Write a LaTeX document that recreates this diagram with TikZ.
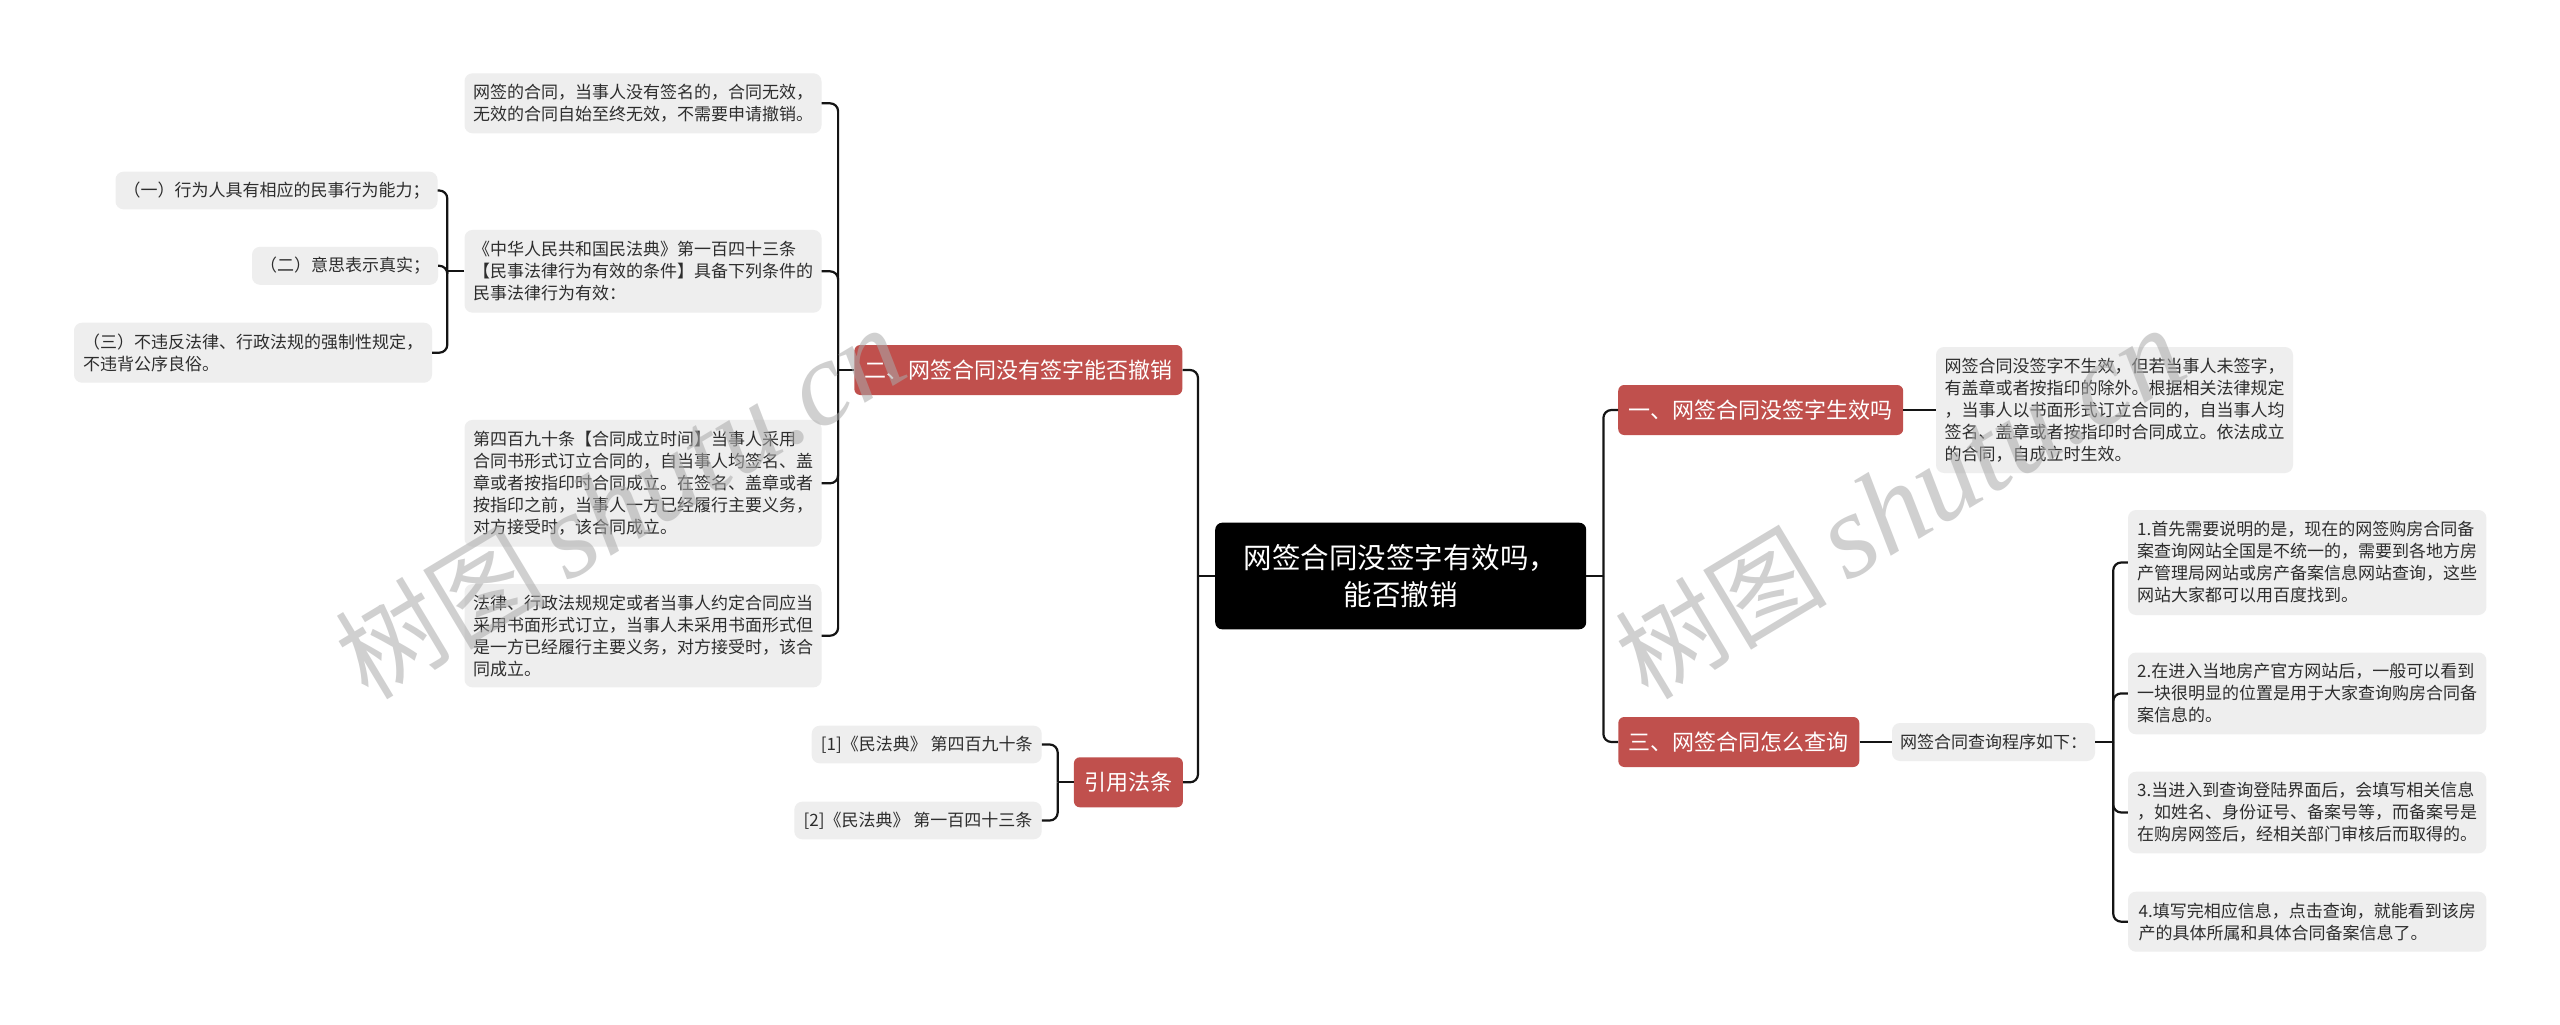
\documentclass[tikz,border=0pt]{standalone}
\usepackage{fontspec}
\setmainfont{Noto Sans CJK SC}
\newfontfamily\cjk{Noto Sans CJK SC}
\newfontfamily\wmserif{Liberation Serif}
\definecolor{nodered}{RGB}{192,80,77}
\definecolor{boxgray}{RGB}{238,238,238}
\definecolor{txtgray}{RGB}{45,45,45}
\definecolor{linecol}{RGB}{20,20,20}
\definecolor{wmcol}{RGB}{170,170,170}
\begin{document}
\begin{tikzpicture}[x=1pt,y=-1pt,
  gbox/.style={fill=boxgray, rounded corners=8pt, inner xsep=8pt, inner ysep=0pt,
    align=left, text=txtgray, font=\fontsize{17}{22}\selectfont},
  rbox/.style={fill=nodered, rounded corners=6pt, inner sep=0pt, text=white,
    font=\fontsize{22}{26}\selectfont, minimum height=50pt},
  cbox/.style={fill=black, rounded corners=7pt, inner sep=0pt, text=white, align=center,
    font=\fontsize{28.5}{36.7}\selectfont},
  link/.style={draw=linecol, line width=2.2pt},
  blink/.style={draw=linecol, line width=2.2pt, rounded corners=8pt},
  wmark/.style={text=wmcol, opacity=0.55, inner sep=0pt, anchor=base west, rotate=31}
]
\fill[white] (0,0) rectangle (2560,1025);
\useasboundingbox (0,0) rectangle (2560,1025);

% central
\node[cbox, minimum width=371pt, minimum height=106.6pt] (root) at (1400.7,576) {网签合同没签字有效吗，\\能否撤销};

% main branches
\node[rbox, minimum width=328pt] (b2) at (1018.3,370) {二、网签合同没有签字能否撤销};
\node[rbox, minimum width=109pt] (bref) at (1128.4,782.3) {引用法条};
\node[rbox, minimum width=285pt] (b1) at (1760.7,410) {一、网签合同没签字生效吗};
\node[rbox, minimum width=241pt] (b3) at (1738.8,742) {三、网签合同怎么查询};

% section two children
\node[gbox, minimum width=357pt, minimum height=60pt] (A) at (643,103.3) {网签的合同，当事人没有签名的，合同无效，\\无效的合同自始至终无效，不需要申请撤销。};
\node[gbox, minimum width=357pt, minimum height=82.7pt] (B) at (643,271.3) {《中华人民共和国民法典》第一百四十三条\\【民事法律行为有效的条件】具备下列条件的\\民事法律行为有效：};
\node[gbox, minimum width=357pt, minimum height=126.7pt] (C) at (643,483.3) {第四百九十条【合同成立时间】当事人采用\\合同书形式订立合同的，自当事人均签名、盖\\章或者按指印时合同成立。在签名、盖章或者\\按指印之前，当事人一方已经履行主要义务，\\对方接受时，该合同成立。};
\node[gbox, minimum width=357pt, minimum height=103.3pt] (D) at (643,635.7) {法律、行政法规规定或者当事人约定合同应当\\采用书面形式订立，当事人未采用书面形式但\\是一方已经履行主要义务，对方接受时，该合\\同成立。};

% conditions
\node[gbox, minimum width=311pt, minimum height=37.6pt] (c1) at (276.5,190.5) {（一）行为人具有相应的民事行为能力；};
\node[gbox, minimum width=174pt, minimum height=38pt] (c2) at (345,265.8) {（二）意思表示真实；};
\node[gbox, minimum width=358pt, minimum height=60pt] (c3) at (253,352.7) {（三）不违反法律、行政法规的强制性规定，\\不违背公序良俗。};

% citations
\node[gbox, minimum width=230pt, minimum height=37.6pt] (r1) at (926.7,744.5) {[1]《民法典》 第四百九十条};
\node[gbox, minimum width=247.4pt, minimum height=37.6pt] (r2) at (918,820.5) {[2]《民法典》 第一百四十三条};

% section one child
\node[gbox, minimum width=357pt, minimum height=126pt] (E) at (2114.5,410) {网签合同没签字不生效，但若当事人未签字，\\有盖章或者按指印的除外。根据相关法律规定\\，当事人以书面形式订立合同的，自当事人均\\签名、盖章或者按指印时合同成立。依法成立\\的合同，自成立时生效。};

% section three children
\node[gbox, minimum width=203pt, minimum height=38pt] (F) at (1993.5,742) {网签合同查询程序如下：};
\node[gbox, minimum width=358.4pt, minimum height=105pt] (G1) at (2307.2,562.5) {1.首先需要说明的是，现在的网签购房合同备\\案查询网站全国是不统一的，需要到各地方房\\产管理局网站或房产备案信息网站查询，这些\\网站大家都可以用百度找到。};
\node[gbox, minimum width=358.4pt, minimum height=81.8pt] (G2) at (2307.2,693.4) {2.在进入当地房产官方网站后，一般可以看到\\一块很明显的位置是用于大家查询购房合同备\\案信息的。};
\node[gbox, minimum width=358.4pt, minimum height=81.6pt] (G3) at (2307.2,812.5) {3.当进入到查询登陆界面后，会填写相关信息\\，如姓名、身份证号、备案号等，而备案号是\\在购房网签后，经相关部门审核后而取得的。};
\node[gbox, minimum width=358.4pt, minimum height=60pt] (G4) at (2307.2,921.7) {4.填写完相应信息，点击查询，就能看到该房\\产的具体所属和具体合同备案信息了。};

% connectors: root left
\draw[link] (root.west) -- ++(-17,0) coordinate (jL);
\draw[blink] (jL) |- (b2.east);
\draw[blink] (jL) |- (bref.east);
% root right
\draw[link] (root.east) -- ++(17,0) coordinate (jR);
\draw[blink] (jR) |- (b1.west);
\draw[blink] (jR) |- (b3.west);
% section two
\draw[link] (b2.west) -- ++(-16,0) coordinate (j2);
\draw[blink] (j2) |- (A.east);
\draw[blink] (j2) |- (B.east);
\draw[blink] (j2) |- (C.east);
\draw[blink] (j2) |- (D.east);
% conditions
\draw[link] (B.west) -- ++(-17,0) coordinate (jB);
\draw[blink] (jB) |- (c1.east);
\draw[blink] (jB) |- (c2.east);
\draw[blink] (jB) |- (c3.east);
% citations
\draw[link] (bref.west) -- ++(-16,0) coordinate (jC);
\draw[blink] (jC) |- (r1.east);
\draw[blink] (jC) |- (r2.east);
% section one
\draw[link] (b1.east) -- (E.west);
% section three
\draw[link] (b3.east) -- (F.west);
\draw[link] (F.east) -- ++(18,0) coordinate (jF);
\draw[blink] (jF) |- (G1.west);
\draw[blink] (jF) |- (G2.west);
\draw[blink] (jF) |- (G3.west);
\draw[blink] (jF) |- (G4.west);

% watermarks
\node[wmark] (wm1) at (368,702) {\fontsize{106}{110}\selectfont\cjk 树图\hspace{20pt}{\fontsize{120}{120}\selectfont\wmserif\itshape shutu.cn}};
\node[wmark] (wm2) at (1648,702) {\fontsize{106}{110}\selectfont\cjk 树图\hspace{20pt}{\fontsize{120}{120}\selectfont\wmserif\itshape shutu.cn}};
\end{tikzpicture}
\end{document}
